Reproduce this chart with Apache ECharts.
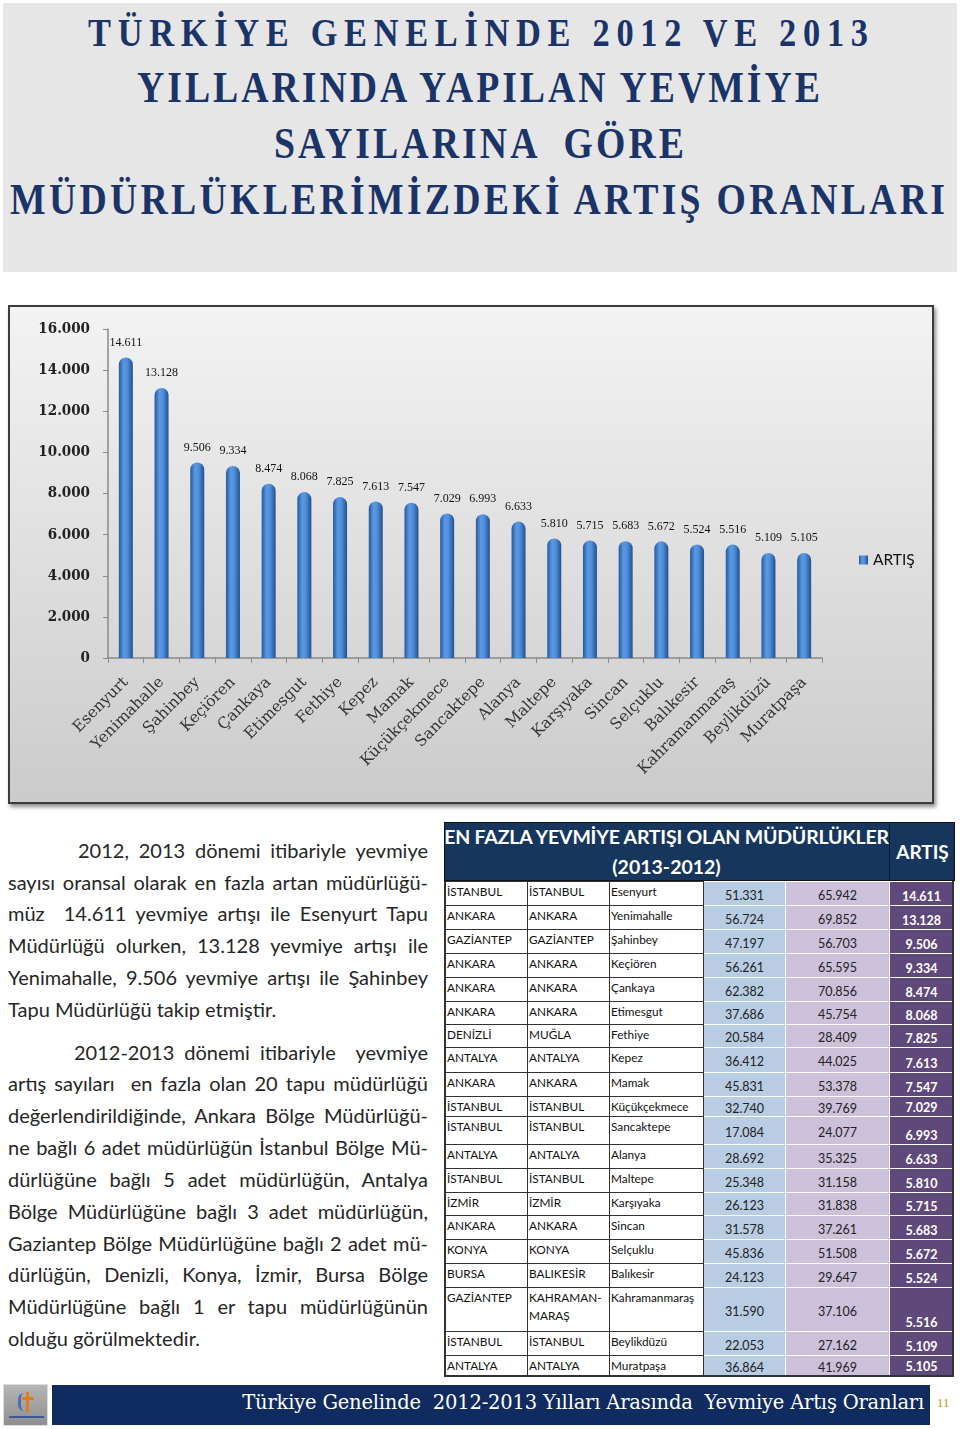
<!DOCTYPE html>
<html><head><meta charset="utf-8">
<script src="https://cdn.jsdelivr.net/npm/echarts@6/dist/echarts.min.js"></script>
<style>
html,body{margin:0;padding:0;background:#fff;}
body{width:960px;height:1429px;position:relative;overflow:hidden;font-family:Lato,"Open Sans",sans-serif;}
#titleBox{position:absolute;left:3px;top:3px;width:954px;height:269px;background:#e6e6e6;}
#chartFrame{position:absolute;left:8px;top:305px;width:926px;height:499px;box-sizing:border-box;border:2px solid #3c3c3c;box-shadow:2px 3px 4px rgba(0,0,0,0.45);}
#chart{position:absolute;left:0;top:0;width:922px;height:495px;}
.pl{position:absolute;left:8px;width:420px;font-size:20px;color:#262626;white-space:nowrap;text-align:justify;text-align-last:justify;line-height:24px;}
.pl.last{text-align:left;text-align-last:left;}
#tbl{position:absolute;left:444px;top:822px;width:511px;}
.cell{position:absolute;box-sizing:border-box;overflow:hidden;}
#footer{position:absolute;left:52px;top:1385px;width:878px;height:40px;background:#102b5f;}
</style></head>
<body>
<div id="titleBox"></div>
<svg id="titleSvg" width="960" height="280" style="position:absolute;left:0;top:0">
</svg>
<div id="chartFrame"><div id="chart"></div></div>
<div id="para"></div>
<div id="tbl"></div>
<div id="logo" style="position:absolute;left:3px;top:1384px;width:45px;height:42px;background:linear-gradient(#b5b5b5,#8f8f8f);border:1px solid #ddd;box-sizing:border-box;">
  <div style="position:absolute;left:14px;top:8px;width:8px;height:18px;border-left:3px solid #4a6fb5;border-radius:6px 0 0 6px;"></div>
  <div style="position:absolute;left:22px;top:7px;width:3px;height:20px;background:#e07b20;"></div>
  <div style="position:absolute;left:18px;top:12px;width:12px;height:3px;background:#e07b20;"></div>
  <div style="position:absolute;left:5px;top:31px;width:35px;height:2px;background:#3a5a9a;"></div>
</div>
<div id="footer"><div style="position:absolute;right:6px;top:6px;color:#fff;font-family:'DejaVu Serif',serif;font-size:19.5px;white-space:nowrap;letter-spacing:-0.2px;">Türkiye Genelinde&nbsp; 2012-2013 Yılları Arasında&nbsp; Yevmiye Artış Oranları</div></div>
<div style="position:absolute;left:937px;top:1395px;color:#c9a300;font-family:'Liberation Serif',serif;font-size:13px;">11</div>
<script>
// ---------------- DATA ----------------
const titleLines = ['TÜRKİYE GENELİNDE 2012 VE 2013','YILLARINDA YAPILAN YEVMİYE','SAYILARINA  GÖRE','MÜDÜRLÜKLERİMİZDEKİ ARTIŞ ORANLARI'];
const categories = ['Esenyurt','Yenimahalle','Şahinbey','Keçiören','Çankaya','Etimesgut','Fethiye','Kepez','Mamak','Küçükçekmece','Sancaktepe','Alanya','Maltepe','Karşıyaka','Sincan','Selçuklu','Balıkesir','Kahramanmaraş','Beylikdüzü','Muratpaşa'];
const artis = [14611,13128,9506,9334,8474,8068,7825,7613,7547,7029,6993,6633,5810,5715,5683,5672,5524,5516,5109,5105];
const seriesName = 'ARTIŞ';
const regions = ['İSTANBUL','ANKARA','GAZİANTEP','ANKARA','ANKARA','ANKARA','DENİZLİ','ANTALYA','ANKARA','İSTANBUL','İSTANBUL','ANTALYA','İSTANBUL','İZMİR','ANKARA','KONYA','BURSA','GAZİANTEP','İSTANBUL','ANTALYA'];
const provinces = ['İSTANBUL','ANKARA','GAZİANTEP','ANKARA','ANKARA','ANKARA','MUĞLA','ANTALYA','ANKARA','İSTANBUL','İSTANBUL','ANTALYA','İSTANBUL','İZMİR','ANKARA','KONYA','BALIKESİR','KAHRAMAN-<br>MARAŞ','İSTANBUL','ANTALYA'];
const y2012 = [51331,56724,47197,56261,62382,37686,20584,36412,45831,32740,17084,28692,25348,26123,31578,45836,24123,31590,22053,36864];
const y2013 = [65942,69852,56703,65595,70856,45754,28409,44025,53378,39769,24077,35325,31158,31838,37261,51508,29647,37106,27162,41969];
const tableTitle1 = 'EN FAZLA YEVMİYE ARTIŞI OLAN MÜDÜRLÜKLER';
const tableTitle2 = '(2013-2012)';
const tableHeadArtis = 'ARTIŞ';
const para1 = ['2012, 2013 dönemi itibariyle yevmiye','sayısı oransal olarak en fazla artan müdürlüğü-','müz  14.611 yevmiye artışı ile Esenyurt Tapu','Müdürlüğü olurken, 13.128 yevmiye artışı ile','Yenimahalle, 9.506 yevmiye artışı ile Şahinbey','Tapu Müdürlüğü takip etmiştir.'];
const para2 = ['2012-2013 dönemi itibariyle   yevmiye','artış sayıları  en fazla olan 20 tapu müdürlüğü','değerlendirildiğinde, Ankara Bölge Müdürlüğü-','ne bağlı 6 adet müdürlüğün İstanbul Bölge Mü-','dürlüğüne bağlı 5 adet müdürlüğün, Antalya','Bölge Müdürlüğüne bağlı 3 adet müdürlüğün,','Gaziantep Bölge Müdürlüğüne bağlı 2 adet mü-','dürlüğün, Denizli, Konya, İzmir, Bursa Bölge','Müdürlüğüne bağlı 1 er tapu müdürlüğünün','olduğu görülmektedir.'];

// ---------------- helpers ----------------
function fmt(v){ if(v===0) return '0'; return String(v).replace(/\B(?=(\d{3})+(?!\d))/g,'.'); }

// ---------------- title ----------------
(function(){
  const spec=[{x0:88,x1:868,b:46,fs:41},{x0:137,x1:820,b:102,fs:45},{x0:274,x1:684,b:158,fs:45},{x0:10,x1:945,b:214,fs:45}];
  const sx=0.84;
  const svg=document.getElementById('titleSvg');
  let h='';
  titleLines.forEach((t,i)=>{const s=spec[i];
    h+=`<g transform="translate(${s.x0},0) scale(${sx},1)"><text x="0" y="${s.b}" textLength="${(s.x1-s.x0)/sx}" lengthAdjust="spacing" font-family="'Liberation Serif',serif" font-weight="bold" font-size="${s.fs}" fill="#1b3468" xml:space="preserve">${t}</text></g>`;});
  svg.innerHTML=h;
})();

// ---------------- paragraphs ----------------
(function(){
  const p=document.getElementById('para');
  const c1=[850,882,913,945,977,1009], c2=[1052,1083,1115,1147,1179,1211,1243,1274,1306,1338];
  let h='';
  para1.forEach((t,i)=>{const left=i===0?78:8;const w=428-left;
    h+=`<div class="pl${i===para1.length-1?' last':''}" style="top:${c1[i]-12}px;left:${left}px;width:${w}px">${t.replace(/  /g,'&nbsp; ')}</div>`;});
  para2.forEach((t,i)=>{const left=i===0?74:8;const w=428-left;
    h+=`<div class="pl${i===para2.length-1?' last':''}" style="top:${c2[i]-12}px;left:${left}px;width:${w}px">${t.replace(/  /g,'&nbsp; ')}</div>`;});
  p.innerHTML=h;
})();

// ---------------- table ----------------
(function(){
  const T=document.getElementById('tbl');
  const colX=[0,83,165,259,341,445,511];
  const rowH=[24,24,24,24,24,23,23,25,24,20,28,24,24,23,24,24,24,44,24,20];
  const headH=59;
  let h='';
  h+=`<div class="cell" style="left:0;top:0;width:511px;height:${headH}px;background:#17365d;border:1px solid #111;"></div>`;
  h+=`<div class="cell" style="left:0;top:1px;width:${colX[5]}px;height:30px;color:#fff;font-weight:bold;font-size:19.5px;text-align:center;white-space:nowrap;line-height:28px;letter-spacing:-0.2px;">${tableTitle1}</div>`;
  h+=`<div class="cell" style="left:0;top:31px;width:${colX[5]}px;height:28px;color:#fff;font-weight:bold;font-size:19.5px;text-align:center;line-height:28px;">${tableTitle2}</div>`;
  h+=`<div class="cell" style="left:${colX[5]}px;top:0;width:${colX[6]-colX[5]}px;height:${headH}px;border-left:1px solid #0a1a33;color:#fff;font-weight:bold;font-size:19px;text-align:center;line-height:${headH}px;">${tableHeadArtis}</div>`;
  let y=headH;
  for(let i=0;i<categories.length;i++){
    const rh=rowH[i];
    const txt=[regions[i],provinces[i],categories[i]];
    for(let c=0;c<3;c++){
      h+=`<div class="cell" style="left:${colX[c]}px;top:${y}px;width:${colX[c+1]-colX[c]+1}px;height:${rh+1}px;border:1px solid #333;border-left-width:${c===0?2:1.5}px;background:#fff;font-size:11.8px;color:#111;padding:1px 0 0 1px;line-height:18px;">${txt[c]}</div>`;
    }
    h+=`<div class="cell" style="left:${colX[3]+1}px;top:${y+1}px;width:${colX[4]-colX[3]-1}px;height:${rh-1}px;background:#b8cce4;font-size:12.5px;color:#222;text-align:center;display:flex;align-items:center;justify-content:center;padding-top:3px;">${fmt(y2012[i])}</div>`;
    h+=`<div class="cell" style="left:${colX[4]+1}px;top:${y+1}px;width:${colX[5]-colX[4]-1}px;height:${rh-1}px;background:#ccc0da;font-size:12.5px;color:#222;text-align:center;display:flex;align-items:center;justify-content:center;padding-top:3px;">${fmt(y2013[i])}</div>`;
    h+=`<div class="cell" style="left:${colX[5]+1}px;top:${y+1}px;width:${colX[6]-colX[5]-3}px;height:${rh-1}px;background:#5f497a;font-size:12.5px;font-weight:bold;color:#fff;text-align:center;display:flex;align-items:flex-end;justify-content:center;padding-bottom:1px;">${fmt(artis[i])}</div>`;
    y+=rh;
  }
  h+=`<div class="cell" style="left:0;top:${headH}px;width:${colX[6]-1}px;height:${y-headH+2}px;border:2px solid #333;border-top:none;pointer-events:none;"></div>`;
  T.innerHTML=h;
})();

// ---------------- chart ----------------
const chart = echarts.init(document.getElementById('chart'), null, {renderer:'canvas'});
const barColor = new echarts.graphic.LinearGradient(0,0,1,0,[
  {offset:0,color:'#2a5799'},{offset:0.35,color:'#5a9ae3'},{offset:0.6,color:'#4f8edb'},{offset:1,color:'#244f8f'}]);
chart.setOption({
  backgroundColor: new echarts.graphic.LinearGradient(0,0,0,1,[{offset:0,color:'#f3f3f3'},{offset:1,color:'#cbcbcb'}]),
  animation:false,
  grid:{left:98,top:22,width:714,height:329},
  legend:{data:[seriesName],left:844,top:240,icon:'rect',itemWidth:9,itemHeight:9,itemGap:6,
    textStyle:{fontFamily:'Lato, "Open Sans", sans-serif',fontSize:15.5,color:'#111'}},
  xAxis:{type:'category',data:categories,
    axisLine:{lineStyle:{color:'#8a8a8a',width:1.5}},
    axisTick:{show:true,length:5,lineStyle:{color:'#8a8a8a'}},
    axisLabel:{rotate:45,interval:0,margin:22,fontFamily:'"DejaVu Serif", serif',fontSize:15.5,color:'#333'}},
  yAxis:{type:'value',min:0,max:16000,interval:2000,
    splitLine:{show:false},
    axisLine:{show:true,lineStyle:{color:'#8a8a8a',width:1.5}},
    axisTick:{show:true,length:5,lineStyle:{color:'#8a8a8a'}},
    axisLabel:{margin:18,formatter:fmt,fontFamily:'"DejaVu Serif Condensed","DejaVu Serif", serif',fontWeight:'bold',fontSize:15,color:'#222'}},
  series:[{name:seriesName,type:'bar',data:artis,barWidth:14,
    itemStyle:{color:barColor,borderRadius:[7,7,0,0]},
    label:{show:true,position:'top',distance:9,formatter:p=>fmt(p.value),
      fontFamily:'"Liberation Serif", serif',fontSize:12,color:'#111'}}]
});
</script>
</body></html>
